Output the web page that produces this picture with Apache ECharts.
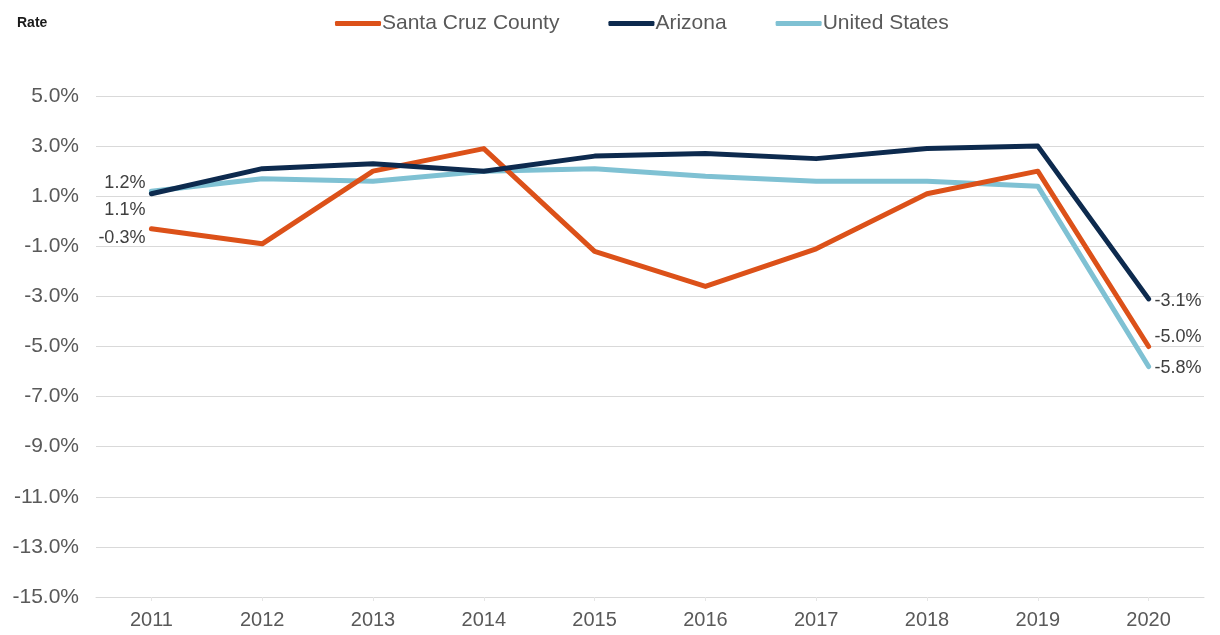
<!DOCTYPE html>
<html>
<head>
<meta charset="utf-8">
<script src="https://cdn.jsdelivr.net/npm/echarts@6/dist/echarts.min.js"></script>
<style>
html, body { margin: 0; padding: 0; background: #fff; }
#main { width: 1220px; height: 635px; }
</style>
</head>
<body>
<div id="main"></div>
<script>
// data
var years = ['2011', '2012', '2013', '2014', '2015', '2016', '2017', '2018', '2019', '2020'];
var santaCruz = [-0.3, -0.9, 2.0, 2.9, -1.2, -2.6, -1.1, 1.1, 2.0, -5.0];
var arizona = [1.1, 2.1, 2.3, 2.0, 2.6, 2.7, 2.5, 2.9, 3.0, -3.1];
var unitedStates = [1.2, 1.7, 1.6, 2.0, 2.1, 1.8, 1.6, 1.6, 1.4, -5.8];
var yTicks = [-15, -13, -11, -9, -7, -5, -3, -1, 1, 3, 5];

var labelColor = '#404040';
var axisFont = 'Liberation Sans, Arial, sans-serif';

// only the first and last points carry a label
function endLabels(values, firstOffset, lastOffset){
	var out = new Array;
	for(var i = 0; i < values.length; i++){
		var item = { value: values[i] };
		if(i == 0){
			item.label = { show: true, position: 'left', offset: firstOffset, distance: 6 };
		}else if(i == values.length - 1){
			item.label = { show: true, position: 'right', offset: lastOffset, distance: 6 };
		}
		out.push(item);
	}
	return out;
}

function initSeries(name, color, values, firstOffset, lastOffset, z){
	return {
		name: name,
		type: 'line',
		symbol: 'circle',
		symbolSize: 0,
		showSymbol: true,
		z: z,
		data: endLabels(values, firstOffset, lastOffset),
		lineStyle: { color: color, width: 5, cap: 'round', join: 'round' },
		itemStyle: { color: color },
		label: {
			show: false,
			color: labelColor,
			fontSize: 18,
			fontFamily: axisFont,
			formatter: function(p){ return p.value.toFixed(1) + '%'; }
		}
	};
}

var option = {
	animation: false,
	backgroundColor: '#ffffff',
	title: {
		text: 'Rate',
		left: 12,
		top: 11,
		textStyle: { fontSize: 14, fontWeight: 'bold', color: '#1a1a1a', fontFamily: axisFont }
	},
	legend: {
		top: 8,
		left: 330,
		itemWidth: 46,
		itemHeight: 5,
		itemGap: 49,
		icon: 'roundRect',
		textStyle: { fontSize: 21, color: '#595959', fontFamily: axisFont, padding: [0, 0, 0, -4] },
		data: ['Santa Cruz County', 'Arizona', 'United States']
	},
	grid: { left: 96, right: 16, top: 96, bottom: 38 },
	xAxis: {
		type: 'category',
		data: years,
		boundaryGap: true,
		axisLine: { show: true, onZero: false, lineStyle: { color: '#d9d9d9', width: 1 } },
		axisTick: { show: true, alignWithLabel: true, length: 4, lineStyle: { color: '#e6e6e6' } },
		axisLabel: { color: '#595959', fontSize: 20, margin: 13, fontFamily: axisFont }
	},
	yAxis: {
		type: 'value',
		min: -15,
		max: 5,
		interval: 2,
		axisLine: { show: false },
		axisTick: { show: false },
		splitLine: { lineStyle: { color: '#d9d9d9', width: 1 } },
		axisLabel: {
			color: '#595959',
			fontSize: 21,
			margin: 17,
			fontFamily: axisFont,
			formatter: function(v){ return yTicks.indexOf(v) >= 0 ? v.toFixed(1) + '%' : ''; }
		}
	},
	series: [
		initSeries('Santa Cruz County', '#dc5119', santaCruz, [0, 9], [0, -9], 3),
		initSeries('Arizona', '#0d2a4e', arizona, [0, 16], [0, 2], 4),
		initSeries('United States', '#7fc1d3', unitedStates, [0, -8], [0, 1], 2)
	]
};

var myChart = echarts.init(document.getElementById('main'));
myChart.setOption(option, true);
</script>
</body>
</html>
